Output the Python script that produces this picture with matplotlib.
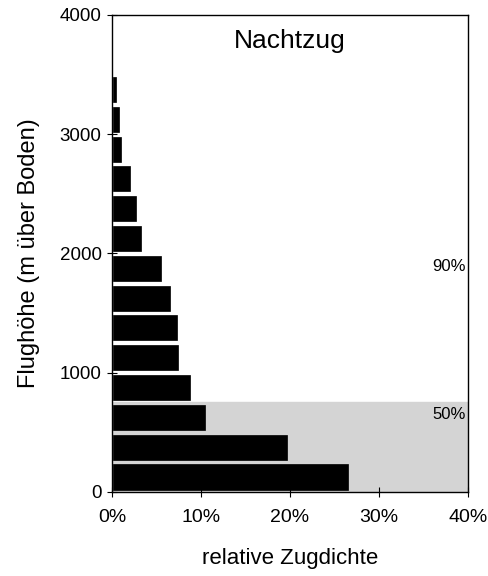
import numpy as np
import matplotlib.pyplot as plt

plt.rcParams['font.family'] = ['Liberation Sans', 'DejaVu Sans']

# height classes (lower bound, m) and relative density (%)
hoehe_unten = [0, 250, 500, 750, 1000, 1250, 1500, 1750, 2000, 2250, 2500, 2750, 3000, 3250]
dichte = [26.4, 19.5, 10.3, 8.6, 7.3, 7.1, 6.4, 5.4, 3.1, 2.6, 1.9, 0.9, 0.6, 0.3]
klassen_breite = 250
grenze_50 = 750
grenze_90 = 2000

fig = plt.figure(figsize=(4.89, 5.76), dpi=100)
ax = fig.add_axes([0.229, 0.146, 0.728, 0.828])

# shaded band for lower 50 %
ax.axhspan(0, grenze_50, color='#d4d4d4', zorder=0)

gap = 40
ax.barh(np.array(hoehe_unten) + gap / 2, dichte, height=klassen_breite - gap,
        left=0.15, align='edge', color='black', edgecolor='black', linewidth=0.5, zorder=2)

ax.text(39.7, 1890, '90%', ha='right', va='center', fontsize=12)
ax.text(39.7, 650, '50%', ha='right', va='center', fontsize=12)
ax.text(20, 3780, 'Nachtzug', ha='center', va='center', fontsize=19)

ax.set_xlim(0, 40)
ax.set_ylim(0, 4000)
ax.set_xticks([0, 10, 20, 30, 40])
ax.set_xticklabels(['0%', '10%', '20%', '30%', '40%'], fontsize=14)
ax.set_yticks([0, 1000, 2000, 3000, 4000])
ax.set_yticklabels(['0', '1000', '2000', '3000', '4000'], fontsize=13.5)
ax.tick_params(axis='both', direction='inout', length=7, width=0.8)
ax.tick_params(axis='x', pad=9)
ax.tick_params(axis='y', pad=4)
for s in ax.spines.values():
    s.set_linewidth(1)

ax.set_xlabel('relative Zugdichte', fontsize=16, labelpad=16)
ax.set_ylabel('Flughöhe (m über Boden)', fontsize=17, labelpad=14)

fig.savefig('out.png', dpi=100)
